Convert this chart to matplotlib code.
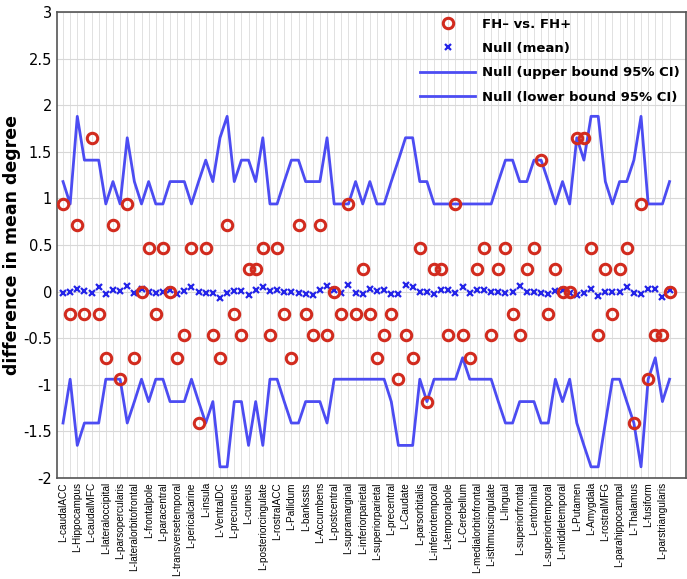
import matplotlib
matplotlib.use("Agg")
import matplotlib.pyplot as plt
import numpy as np

# Labels for the left-hemisphere regions (every second node)
regions = ['L-caudalACC', 'L-Hippocampus', 'L-caudalMFC', 'L-lateraloccipital',
           'L-parsopercularis', 'L-lateralorbitofrontal', 'L-frontalpole',
           'L-paracentral', 'L-transversetemporal', 'L-pericalcarine', 'L-insula',
           'L-VentralDC', 'L-precuneus', 'L-cuneus', 'L-posteriorcingulate',
           'L-rostralACC', 'L-Pallidum', 'L-bankssts', 'L-Accumbens', 'L-postcentral',
           'L-supramarginal', 'L-inferiorparietal', 'L-superiorparietal',
           'L-precentral', 'L-Caudate', 'L-parsorbitalis', 'L-inferiortemporal',
           'L-temporalpole', 'L-Cerebellum', 'L-medialorbitofrontal',
           'L-isthmuscingulate', 'L-lingual', 'L-superiorfrontal', 'L-entorhinal',
           'L-superiortemporal', 'L-middletemporal', 'L-Putamen', 'L-Amygdala',
           'L-rostralMFG', 'L-parahippocampal', 'L-Thalamus', 'L-fusiform',
           'L-parstriangularis']

# FH- vs FH+ observed difference
observed = [0.94, -0.24, 0.71, -0.24, 1.65, -0.24, -0.71, 0.71, -0.94, 0.94,
            -0.71, 0, 0.47, -0.24, 0.47, 0, -0.71, -0.47, 0.47, -1.41,
            0.47, -0.47, -0.71, 0.71, -0.24, -0.47, 0.24, 0.24, 0.47, -0.47,
            0.47, -0.24, -0.71, 0.71, -0.24, -0.47, 0.71, -0.47, 0, -0.24,
            0.94, -0.24, 0.24, -0.24, -0.71, -0.47, -0.24, -0.94, -0.47, -0.71,
            0.47, -1.18, 0.24, 0.24, -0.47, 0.94, -0.47, -0.71, 0.24, 0.47,
            -0.47, 0.24, 0.47, -0.24, -0.47, 0.24, 0.47, 1.41, -0.24, 0.24,
            0, 0, 1.65, 1.65, 0.47, -0.47, 0.24, -0.24, 0.24, 0.47,
            -1.41, 0.94, -0.94, -0.47, -0.47, 0]

# Null distribution mean
null_mean = [-0.01, 0, 0.03, 0.01, -0.01, 0.05, -0.03, 0.02, 0.01, 0.06,
             -0.02, 0.03, 0, -0.01, 0, 0.015, -0.03, 0.01, 0.045, 0,
             -0.02, -0.02, -0.07, -0.02, 0.01, 0.01, -0.04, 0.02, 0.045, 0.01,
             0.02, 0, 0, -0.01, -0.03, -0.04, 0.015, 0.06, 0.015, -0.01,
             0.07, -0.02, -0.03, 0.03, 0.01, 0.015, -0.03, -0.03, 0.07, 0.045,
             0, 0, -0.03, 0.015, 0.015, -0.01, 0.05, -0.02, 0.02, 0.015,
             0, 0, -0.02, 0, 0.06, 0, 0, -0.02, -0.03, 0.01,
             0.015, -0.02, -0.04, -0.02, 0.03, -0.05, 0, 0, 0, 0.045,
             -0.01, -0.03, 0.03, 0.03, -0.06, 0.02]

# 95% CI bounds of the null
upper = [1.18, 0.94, 1.88, 1.41, 1.41, 1.41, 0.94, 1.18, 0.94, 1.65,
         1.18, 0.94, 1.18, 0.94, 0.94, 1.18, 1.18, 1.18, 0.94, 1.18,
         1.41, 1.18, 1.65, 1.88, 1.18, 1.41, 1.41, 1.18, 1.65, 0.94,
         0.94, 1.18, 1.41, 1.41, 1.18, 1.18, 1.18, 1.65, 0.94, 0.94,
         0.94, 1.18, 0.94, 1.18, 0.94, 0.94, 1.18, 1.41, 1.65, 1.65,
         1.18, 1.18, 0.94, 0.94, 0.94, 0.94, 0.94, 0.94, 0.94, 0.94,
         0.94, 1.18, 1.41, 1.41, 1.18, 1.18, 1.41, 1.41, 1.18, 0.94,
         1.18, 0.94, 1.65, 1.41, 1.88, 1.88, 1.18, 0.94, 1.18, 1.18,
         1.41, 1.88, 0.94, 0.94, 0.94, 1.18]

lower = [-1.41, -0.94, -1.65, -1.41, -1.41, -1.41, -0.94, -0.94, -0.94, -1.41,
         -1.18, -0.94, -1.18, -0.94, -0.94, -1.18, -1.18, -1.18, -0.94, -1.18,
         -1.41, -1.18, -1.88, -1.88, -1.18, -1.18, -1.65, -1.18, -1.65, -0.94,
         -0.94, -1.18, -1.41, -1.41, -1.18, -1.18, -1.18, -1.41, -0.94, -0.94,
         -0.94, -0.94, -0.94, -0.94, -0.94, -0.94, -1.18, -1.65, -1.65, -1.65,
         -0.94, -1.18, -0.94, -0.94, -0.94, -0.94, -0.71, -0.94, -0.94, -0.94,
         -0.94, -1.18, -1.41, -1.41, -1.18, -1.18, -1.18, -1.41, -1.41, -0.94,
         -1.18, -0.94, -1.41, -1.65, -1.88, -1.88, -1.41, -0.94, -0.94, -1.18,
         -1.41, -1.88, -0.94, -0.71, -1.18, -0.94]

plt.rcParams['axes.unicode_minus'] = False

x = np.arange(len(observed))

fig = plt.figure(figsize=(6.87, 5.79), dpi=100)
ax = fig.add_axes([0.083, 0.1744, 0.915, 0.805])

ax.plot(x, observed, 'o', mfc='none', mec='#d22b1e', mew=2.2, ms=7.5,
        label='FH\u2013 vs. FH+', zorder=5)
ax.plot(x, null_mean, 'x', color='#2424e8', mew=1.6, ms=4.5,
        label='Null (mean)', zorder=4)
ax.plot(x, upper, '-', color='#4c4cf2', lw=2, label='Null (upper bound 95% CI)')
ax.plot(x, lower, '-', color='#4c4cf2', lw=2, label='Null (lower bound 95% CI)')

ax.set_xlim(-0.84, 87.25)
ax.set_ylim(-2, 3)
ax.set_yticks(np.arange(-2, 3.01, 0.5))
ax.set_yticklabels([f'{v:g}' for v in np.arange(-2, 3.01, 0.5)], fontsize=10.5)

ax.set_xticks(x[::2])
ax.set_xticklabels(regions, rotation=90, fontsize=7.2, family='Liberation Sans')
ax.set_xticks(x, minor=True)
ax.tick_params(axis='both', which='both', length=0)
ax.tick_params(axis='x', pad=3)

ax.grid(True, which='both', axis='x', color='#dcdcdc', lw=0.6)
ax.grid(True, which='major', axis='y', color='#d8d8d8', lw=0.8)
ax.set_axisbelow(True)
for s in ax.spines.values():
    s.set_color('#555555')
    s.set_linewidth(1.2)

ax.set_ylabel('difference in mean degree', fontsize=12.5, fontweight='bold')
ax.yaxis.set_label_coords(-0.058, 0.5)

leg = ax.legend(loc='upper right', frameon=False, handlelength=4.2,
                prop={'weight': 'bold', 'size': 9.5}, borderaxespad=0.05,
                labelspacing=0.85, handletextpad=0.5)

fig.savefig('out.png', dpi=100)
